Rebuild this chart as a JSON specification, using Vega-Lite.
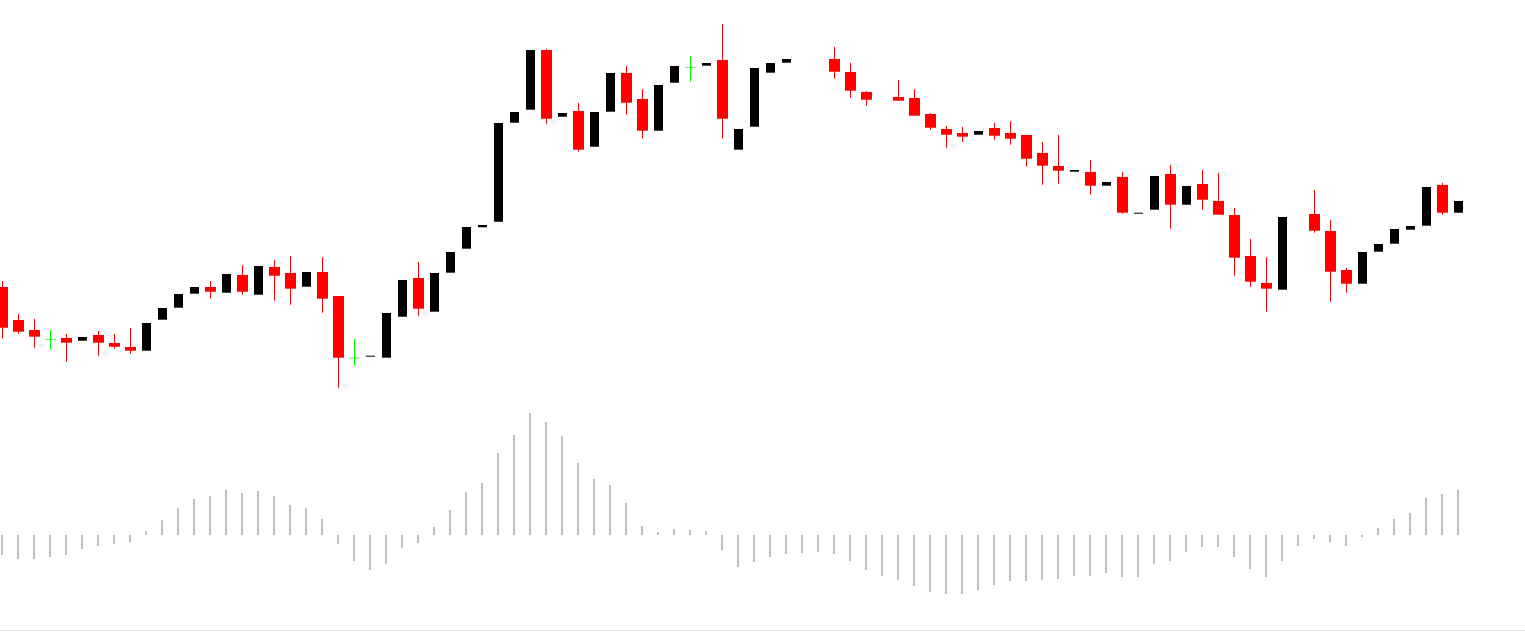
{
  "$schema": "https://vega.github.io/schema/vega-lite/v6.json",
  "width": 1525,
  "height": 630,
  "padding": {"left": 0, "top": 0, "right": 0, "bottom": 2},
  "autosize": {"type": "none"},
  "background": "white",
  "config": {"view": {"stroke": null}},
  "datasets": {
    "ohlc": [
      {"i": 0, "o": 343, "h": 349, "l": 291.3, "c": 302.3},
      {"i": 1, "o": 310, "h": 316, "l": 296.3, "c": 298.3},
      {"i": 2, "o": 300, "h": 311, "l": 282.3, "c": 293.3},
      {"i": 3, "o": 290.7, "h": 300, "l": 280.3, "c": 290.7},
      {"i": 4, "o": 292, "h": 296, "l": 268.3, "c": 287.3},
      {"i": 5, "o": 289.3, "h": 293, "l": 289.3, "c": 293},
      {"i": 6, "o": 295, "h": 299, "l": 274.3, "c": 287.3},
      {"i": 7, "o": 287, "h": 296, "l": 281.3, "c": 283.3},
      {"i": 8, "o": 283, "h": 302, "l": 276.3, "c": 279.3},
      {"i": 9, "o": 279.3, "h": 307, "l": 279.3, "c": 307},
      {"i": 10, "o": 310.3, "h": 322, "l": 310.3, "c": 322},
      {"i": 11, "o": 322.3, "h": 336, "l": 322.3, "c": 336},
      {"i": 12, "o": 336.3, "h": 343, "l": 336.3, "c": 343},
      {"i": 13, "o": 343, "h": 349, "l": 331.3, "c": 338.3},
      {"i": 14, "o": 337.3, "h": 356, "l": 337.3, "c": 356},
      {"i": 15, "o": 355, "h": 365, "l": 335.3, "c": 338.3},
      {"i": 16, "o": 335.3, "h": 364, "l": 335.3, "c": 364},
      {"i": 17, "o": 363, "h": 370, "l": 329.3, "c": 354.3},
      {"i": 18, "o": 357, "h": 374, "l": 325.3, "c": 341.3},
      {"i": 19, "o": 343.3, "h": 358, "l": 343.3, "c": 358},
      {"i": 20, "o": 358, "h": 373, "l": 317.3, "c": 331.3},
      {"i": 21, "o": 334, "h": 334, "l": 242.3, "c": 272.3},
      {"i": 22, "o": 272, "h": 291, "l": 264.3, "c": 272},
      {"i": 23, "o": 273.3, "h": 274.3, "l": 273.3, "c": 274.3},
      {"i": 24, "o": 272.3, "h": 317, "l": 272.3, "c": 317},
      {"i": 25, "o": 313.3, "h": 350, "l": 313.3, "c": 350},
      {"i": 26, "o": 352, "h": 368, "l": 314.3, "c": 321.3},
      {"i": 27, "o": 318.3, "h": 357, "l": 318.3, "c": 357},
      {"i": 28, "o": 357.3, "h": 378, "l": 357.3, "c": 378},
      {"i": 29, "o": 381.3, "h": 403, "l": 381.3, "c": 403},
      {"i": 30, "o": 402.7, "h": 405, "l": 402.7, "c": 405},
      {"i": 31, "o": 408.3, "h": 507, "l": 408.3, "c": 507},
      {"i": 32, "o": 507.3, "h": 518, "l": 507.3, "c": 518},
      {"i": 33, "o": 520.3, "h": 580, "l": 520.3, "c": 580},
      {"i": 34, "o": 580, "h": 581.3, "l": 506.3, "c": 511.3},
      {"i": 35, "o": 513.3, "h": 517, "l": 513.3, "c": 517},
      {"i": 36, "o": 519, "h": 527, "l": 478.3, "c": 480.3},
      {"i": 37, "o": 483.3, "h": 518, "l": 483.3, "c": 518},
      {"i": 38, "o": 518.3, "h": 557, "l": 518.3, "c": 557},
      {"i": 39, "o": 557, "h": 564, "l": 515.3, "c": 527.3},
      {"i": 40, "o": 531, "h": 541, "l": 491.3, "c": 499.3},
      {"i": 41, "o": 499.3, "h": 545, "l": 499.3, "c": 545},
      {"i": 42, "o": 547.3, "h": 564, "l": 547.3, "c": 564},
      {"i": 43, "o": 562.7, "h": 574, "l": 548.3, "c": 562.7},
      {"i": 44, "o": 564.3, "h": 567, "l": 564.3, "c": 567},
      {"i": 45, "o": 570, "h": 606, "l": 491.3, "c": 511.3},
      {"i": 46, "o": 480.3, "h": 501, "l": 480.3, "c": 501},
      {"i": 47, "o": 503.3, "h": 562, "l": 503.3, "c": 562},
      {"i": 48, "o": 557.3, "h": 567, "l": 557.3, "c": 567},
      {"i": 49, "o": 567.3, "h": 571, "l": 567.3, "c": 571},
      {"i": 52, "o": 571, "h": 583, "l": 551.3, "c": 558.3},
      {"i": 53, "o": 558, "h": 567, "l": 532.3, "c": 539.3},
      {"i": 54, "o": 538, "h": 539, "l": 524.3, "c": 530.3},
      {"i": 56, "o": 533, "h": 550, "l": 529.3, "c": 529.3},
      {"i": 57, "o": 532, "h": 541, "l": 514.3, "c": 514.3},
      {"i": 58, "o": 516, "h": 517, "l": 500.3, "c": 502.3},
      {"i": 59, "o": 501, "h": 504, "l": 482.3, "c": 495.3},
      {"i": 60, "o": 497, "h": 503, "l": 488.3, "c": 493.3},
      {"i": 61, "o": 495.3, "h": 499, "l": 495.3, "c": 499},
      {"i": 62, "o": 502, "h": 507, "l": 490.3, "c": 494.3},
      {"i": 63, "o": 497, "h": 509, "l": 485.3, "c": 491.3},
      {"i": 64, "o": 495, "h": 495, "l": 463.3, "c": 471.3},
      {"i": 65, "o": 477, "h": 488, "l": 445.3, "c": 464.3},
      {"i": 66, "o": 464, "h": 495, "l": 446.3, "c": 459.3},
      {"i": 67, "o": 458.3, "h": 460, "l": 458.3, "c": 460},
      {"i": 68, "o": 458, "h": 470, "l": 435.3, "c": 444.3},
      {"i": 69, "o": 444.3, "h": 448, "l": 444.3, "c": 448},
      {"i": 70, "o": 453, "h": 458, "l": 416.3, "c": 417.3},
      {"i": 71, "o": 416.3, "h": 417.3, "l": 416.3, "c": 417.3},
      {"i": 72, "o": 420.3, "h": 454, "l": 420.3, "c": 454},
      {"i": 73, "o": 456, "h": 465, "l": 401.3, "c": 425.3},
      {"i": 74, "o": 425.3, "h": 444, "l": 425.3, "c": 444},
      {"i": 75, "o": 446, "h": 460, "l": 420.3, "c": 430.3},
      {"i": 76, "o": 429, "h": 457, "l": 415.3, "c": 415.3},
      {"i": 77, "o": 415, "h": 422, "l": 354.3, "c": 372.3},
      {"i": 78, "o": 374, "h": 391, "l": 343.3, "c": 348.3},
      {"i": 79, "o": 347, "h": 373, "l": 318.3, "c": 341.3},
      {"i": 80, "o": 340.3, "h": 413, "l": 340.3, "c": 413},
      {"i": 82, "o": 416, "h": 440, "l": 397.3, "c": 399.3},
      {"i": 83, "o": 399, "h": 410, "l": 328.3, "c": 358.3},
      {"i": 84, "o": 360, "h": 362, "l": 337.3, "c": 346.3},
      {"i": 85, "o": 346.3, "h": 378, "l": 346.3, "c": 378},
      {"i": 86, "o": 378.3, "h": 386, "l": 378.3, "c": 386},
      {"i": 87, "o": 386.3, "h": 401, "l": 386.3, "c": 401},
      {"i": 88, "o": 400.3, "h": 404, "l": 400.3, "c": 404},
      {"i": 89, "o": 404.3, "h": 443, "l": 404.3, "c": 443},
      {"i": 90, "o": 445, "h": 447, "l": 415.3, "c": 417.3},
      {"i": 91, "o": 417.3, "h": 429, "l": 417.3, "c": 429}
    ],
    "macd": [
      {"i": 0, "v": -20}, {"i": 1, "v": -24}, {"i": 2, "v": -24}, {"i": 3, "v": -22},
      {"i": 4, "v": -20}, {"i": 5, "v": -14}, {"i": 6, "v": -11}, {"i": 7, "v": -9},
      {"i": 8, "v": -7}, {"i": 9, "v": 4}, {"i": 10, "v": 15}, {"i": 11, "v": 27},
      {"i": 12, "v": 36}, {"i": 13, "v": 39}, {"i": 14, "v": 45}, {"i": 15, "v": 42},
      {"i": 16, "v": 44}, {"i": 17, "v": 39}, {"i": 18, "v": 30}, {"i": 19, "v": 27},
      {"i": 20, "v": 16}, {"i": 21, "v": -9}, {"i": 22, "v": -26}, {"i": 23, "v": -35},
      {"i": 24, "v": -29}, {"i": 25, "v": -13}, {"i": 26, "v": -8}, {"i": 27, "v": 8},
      {"i": 28, "v": 25}, {"i": 29, "v": 43}, {"i": 30, "v": 52}, {"i": 31, "v": 82},
      {"i": 32, "v": 100}, {"i": 33, "v": 122}, {"i": 34, "v": 113}, {"i": 35, "v": 99},
      {"i": 36, "v": 72}, {"i": 37, "v": 56}, {"i": 38, "v": 50}, {"i": 39, "v": 32},
      {"i": 40, "v": 9}, {"i": 41, "v": 3}, {"i": 42, "v": 6}, {"i": 43, "v": 5},
      {"i": 44, "v": 4}, {"i": 45, "v": -15}, {"i": 46, "v": -32}, {"i": 47, "v": -27},
      {"i": 48, "v": -22}, {"i": 49, "v": -19}, {"i": 50, "v": -18}, {"i": 51, "v": -17},
      {"i": 52, "v": -19}, {"i": 53, "v": -26}, {"i": 54, "v": -35}, {"i": 55, "v": -41},
      {"i": 56, "v": -45}, {"i": 57, "v": -51}, {"i": 58, "v": -57}, {"i": 59, "v": -59},
      {"i": 60, "v": -59}, {"i": 61, "v": -55}, {"i": 62, "v": -50}, {"i": 63, "v": -46},
      {"i": 64, "v": -46}, {"i": 65, "v": -45}, {"i": 66, "v": -44}, {"i": 67, "v": -41},
      {"i": 68, "v": -41}, {"i": 69, "v": -38}, {"i": 70, "v": -42}, {"i": 71, "v": -42},
      {"i": 72, "v": -29}, {"i": 73, "v": -26}, {"i": 74, "v": -17}, {"i": 75, "v": -12},
      {"i": 76, "v": -12}, {"i": 77, "v": -22}, {"i": 78, "v": -34}, {"i": 79, "v": -42},
      {"i": 80, "v": -26}, {"i": 81, "v": -11}, {"i": 82, "v": -4}, {"i": 83, "v": -7},
      {"i": 84, "v": -11}, {"i": 85, "v": -2}, {"i": 86, "v": 7}, {"i": 87, "v": 16},
      {"i": 88, "v": 22}, {"i": 89, "v": 37}, {"i": 90, "v": 41}, {"i": 91, "v": 45}
    ]
  },
  "encoding": {
    "x": {
      "field": "i",
      "type": "quantitative",
      "scale": {"domain": [-0.15625, 95.15625], "nice": false, "zero": false, "padding": 0},
      "axis": {"labels": false, "ticks": false, "grid": false, "title": null, "domain": true, "domainColor": "#e0e0e0", "domainWidth": 1}
    }
  },
  "layer": [
    {
      "data": {"name": "macd"},
      "mark": {"type": "rule", "color": "#c0c0c0", "strokeWidth": 2, "xOffset": -0.5},
      "encoding": {
        "y": {"field": "v", "type": "quantitative", "scale": {"domain": [-95, 535], "nice": false, "zero": false}, "axis": null},
        "y2": {"datum": 0}
      }
    },
    {
      "data": {"name": "ohlc"},
      "layer": [
        {
          "transform": [{"filter": "datum.c < datum.o"}],
          "mark": {"type": "rule", "color": "#ff0000", "strokeWidth": 1},
          "encoding": {
            "y": {"field": "l", "type": "quantitative", "scale": {"domain": [0, 630], "nice": false, "zero": false}, "axis": null},
            "y2": {"field": "h"}
          }
        },
        {
          "transform": [{"filter": "datum.c < datum.o"}],
          "mark": {"type": "bar", "color": "#ff0000", "width": 11},
          "encoding": {
            "y": {"field": "o", "type": "quantitative", "scale": {"domain": [0, 630], "nice": false, "zero": false}, "axis": null},
            "y2": {"field": "c"}
          }
        },
        {
          "transform": [{"filter": "datum.c > datum.o"}],
          "mark": {"type": "bar", "color": "#000000", "width": 9},
          "encoding": {
            "y": {"field": "o", "type": "quantitative", "scale": {"domain": [0, 630], "nice": false, "zero": false}, "axis": null},
            "y2": {"field": "c"}
          }
        },
        {
          "transform": [{"filter": "datum.c == datum.o"}],
          "mark": {"type": "rule", "color": "#00ff00", "strokeWidth": 1},
          "encoding": {
            "y": {"field": "l", "type": "quantitative", "scale": {"domain": [0, 630], "nice": false, "zero": false}, "axis": null},
            "y2": {"field": "h"}
          }
        },
        {
          "transform": [{"filter": "datum.c == datum.o"}],
          "mark": {"type": "tick", "color": "#00ff00", "orient": "horizontal", "size": 11, "thickness": 1},
          "encoding": {
            "y": {"field": "o", "type": "quantitative", "scale": {"domain": [0, 630], "nice": false, "zero": false}, "axis": null}
          }
        }
      ]
    }
  ],
  "resolve": {"scale": {"y": "independent"}}
}
